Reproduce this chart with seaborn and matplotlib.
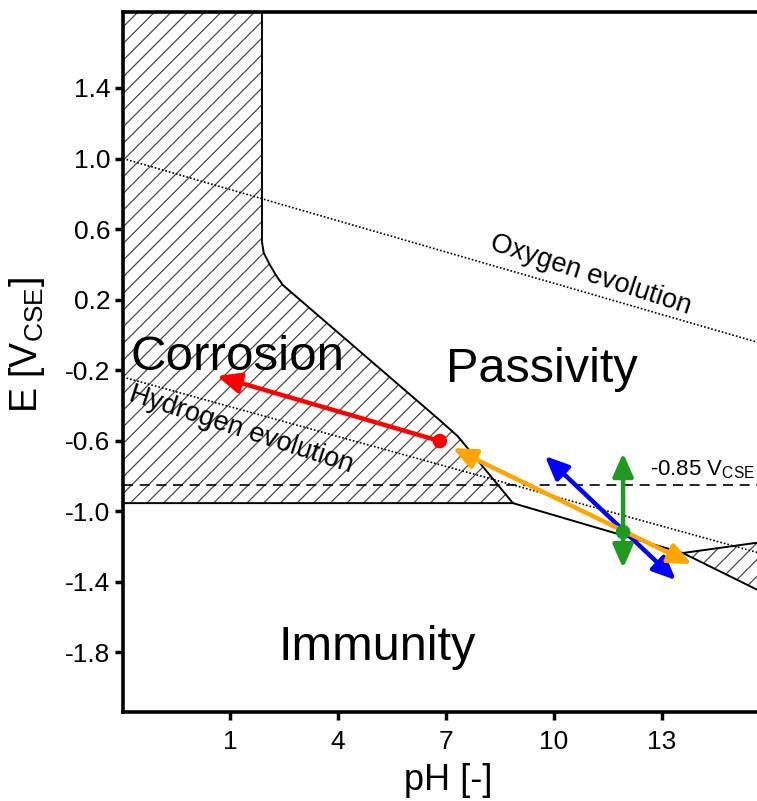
import matplotlib
matplotlib.use("Agg")
import matplotlib.pyplot as plt
import seaborn as sns

# Pourbaix diagram of zinc, E vs CSE against pH
# corrosion region at low pH (hatched)
corr_ph = [-2.1, 1.89, 1.89, 1.94, 2.11, 2.31, 2.47, 6.83, 7.33, 8.86, -2.1]
corr_e = [1.95, 1.95, 0.526, 0.464, 0.396, 0.328, 0.282, -0.485, -0.576, -0.955, -0.955]
# corrosion region at high pH (hatched)
hi_ph = [13.58, 15.7, 15.7]
hi_e = [-1.238, -1.178, -1.452]
# boundary lines
pass_ph = [1.89, 1.89, 1.94, 2.11, 2.31, 2.47, 6.83, 7.33, 8.86]
pass_e = [1.95, 0.526, 0.464, 0.396, 0.328, 0.282, -0.485, -0.576, -0.955]
imm_ph = [-2.1, 8.86, 13.58, 15.7]
imm_e = [-0.955, -0.955, -1.238, -1.452]
hi_top_ph = [13.58, 15.7]
hi_top_e = [-1.238, -1.178]
# water stability lines and protection criterion
o2_ph = [-1.97, 15.7]
o2_e = [1.0, -0.045]
h2_ph = [-1.97, 15.7]
h2_e = [-0.24, -1.238]
crit_ph = [-1.97, 15.7]
crit_e = [-0.85, -0.85]
# arrows (tail, head)
red_ph = [6.83, 0.64]
red_e = [-0.603, -0.234]
orange_ph = [7.19, 13.83]
orange_e = [-0.643, -1.301]
blue_ph = [9.75, 13.39]
blue_e = [-0.688, -1.392]
green_ph = [11.92, 11.92]
green_e = [-0.671, -1.324]
dot_ph = [6.83, 11.92]
dot_e = [-0.603, -1.119]
dot_col = ["#ff0000", "#1f9a1f"]

x_ticks = [1, 4, 7, 10, 13]
y_ticks = [1.4, 1.0, 0.6, 0.2, -0.2, -0.6, -1.0, -1.4, -1.8]

sns.set_theme(style="ticks")
plt.rcParams["font.family"] = ["Liberation Sans", "DejaVu Sans"]
plt.rcParams["axes.unicode_minus"] = False
plt.rcParams["hatch.linewidth"] = 0.9
plt.rcParams["mathtext.default"] = "regular"
for k in ["text.color", "axes.labelcolor", "xtick.color", "ytick.color", "xtick.labelcolor", "ytick.labelcolor"]:
    plt.rcParams[k] = "black"

fig = plt.figure(figsize=(7.57, 8.01), dpi=100)
ax = fig.add_axes([0.1625, 0.1111, 0.8375, 0.8739])

# hatched corrosion regions
ax.fill(corr_ph, corr_e, facecolor="none", edgecolor="#4a4a4a", hatch="//", lw=0, zorder=1)
ax.fill(hi_ph, hi_e, facecolor="none", edgecolor="#4a4a4a", hatch="//", lw=0, zorder=1)

def line(x, y, **kw):
    sns.lineplot(x=x, y=y, sort=False, estimator=None, ax=ax, **kw)

line(pass_ph, pass_e, color="black", lw=1.4, zorder=2)
line(imm_ph, imm_e, color="black", lw=1.4, zorder=2)
line(hi_top_ph, hi_top_e, color="black", lw=1.4, zorder=2)
line(o2_ph, o2_e, color="black", lw=1.2, linestyle=(0, (1, 1.2)), zorder=2)
line(h2_ph, h2_e, color="black", lw=1.2, linestyle=(0, (1, 1.2)), zorder=2)
line(crit_ph, crit_e, color="black", lw=1.2, linestyle=(0, (6, 4)), zorder=2)

def arrow(ph, e, color, style):
    ax.annotate("", xy=(ph[1], e[1]), xytext=(ph[0], e[0]),
                arrowprops=dict(arrowstyle=style + ",head_length=0.5,head_width=0.22",
                                color=color, lw=3.2, mutation_scale=28,
                                shrinkA=0, shrinkB=0), zorder=4)

arrow(red_ph, red_e, "#ff0000", "-|>")
arrow(blue_ph, blue_e, "#0000ff", "<|-|>")
arrow(orange_ph, orange_e, "#ffa500", "<|-|>")
arrow(green_ph, green_e, "#1f9a1f", "<|-|>")
sns.scatterplot(x=dot_ph, y=dot_e, hue=dot_ph, palette=dot_col, s=110,
                edgecolor="none", legend=False, ax=ax, zorder=5)

# region and line labels
ax.text(1.22, -0.2, "Corrosion", fontsize=35.5, ha="center", va="baseline", zorder=3)
ax.text(9.67, -0.268, "Passivity", fontsize=35, ha="center", va="baseline", zorder=3)
ax.text(5.08, -1.845, "Immunity", fontsize=35, ha="center", va="baseline", zorder=3)
ax.text(11.03, 0.339, "Oxygen evolution", fontsize=19.5, rotation=-18,
        rotation_mode="anchor", ha="center", va="center", zorder=3)
ax.text(1.3, -0.54, "Hydrogen evolution", fontsize=19.5, rotation=-18,
        rotation_mode="anchor", ha="center", va="center", zorder=3)
ax.text(12.68, -0.80, r"-0.85 V$_{CSE}$", fontsize=16, ha="left", va="baseline", zorder=3)

ax.set_xlim(-1.97, 15.64)
ax.set_ylim(-2.14, 1.831)
ax.set_xticks(x_ticks)
ax.set_xticklabels([str(t) for t in x_ticks])
ax.set_yticks(y_ticks)
ax.set_yticklabels(["%.1f" % t for t in y_ticks])
ax.tick_params(axis="both", direction="out", length=6, width=2.5, labelsize=19, color="black")
ax.tick_params(axis="x", pad=7)
ax.tick_params(axis="y", pad=3)
for s in ["left", "bottom", "top"]:
    ax.spines[s].set_linewidth(2.6)
    ax.spines[s].set_color("black")
ax.spines["right"].set_visible(False)

ax.set_xlabel("pH [-]", fontsize=26)
ax.set_ylabel(r"E [V$_{CSE}$]", fontsize=27)
ax.xaxis.set_label_coords(0.513, -0.073)
ax.yaxis.set_label_coords(-0.12, 0.524)

fig.savefig("out.png", dpi=100)
